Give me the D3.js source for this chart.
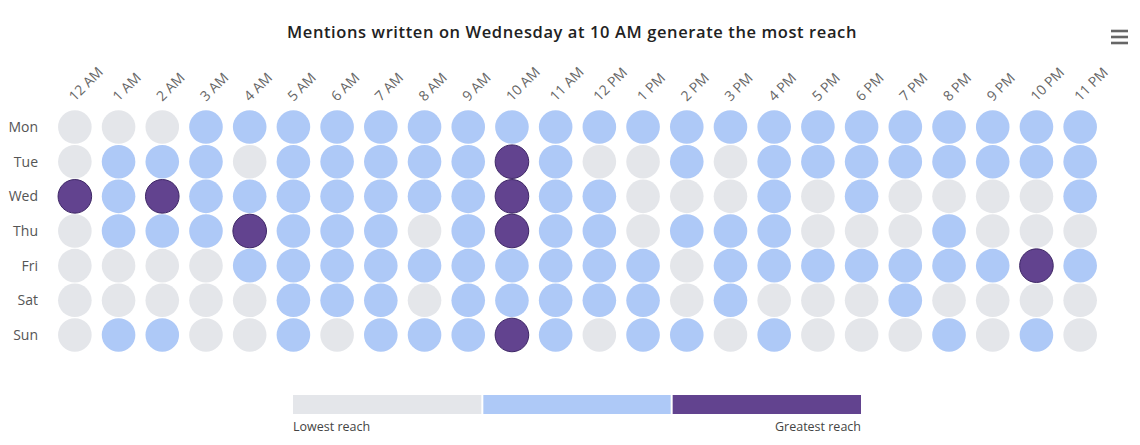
<!DOCTYPE html>
<html>
<head>
<meta charset="utf-8">
<script src="https://cdn.jsdelivr.net/npm/d3@7"></script>
<style>
  html, body { margin: 0; padding: 0; background: #fff; }
  svg { display: block; }
  text { font-family: "Open Sans", "DejaVu Sans", sans-serif; }
</style>
</head>
<body>
<svg id="chart" width="1140" height="445"></svg>
<script>
const title = "Mentions written on Wednesday at 10 AM generate the most reach";
const hours = ["12 AM","1 AM","2 AM","3 AM","4 AM","5 AM","6 AM","7 AM","8 AM","9 AM","10 AM","11 AM",
               "12 PM","1 PM","2 PM","3 PM","4 PM","5 PM","6 PM","7 PM","8 PM","9 PM","10 PM","11 PM"];
const days = ["Mon","Tue","Wed","Thu","Fri","Sat","Sun"];
// reach level: 0 = lowest, 1 = medium, 2 = greatest
const mon = [0,0,0,1,1,1,1,1,1,1,1,1,1,1,1,1,1,1,1,1,1,1,1,1];
const tue = [0,1,1,1,0,1,1,1,1,1,2,1,0,0,1,0,1,1,1,1,1,1,1,1];
const wed = [2,1,2,1,1,1,1,1,1,1,2,1,1,0,0,0,1,0,1,0,0,0,0,1];
const thu = [0,1,1,1,2,1,1,1,0,1,2,1,1,0,1,1,1,0,0,0,1,0,0,0];
const fri = [0,0,0,0,1,1,1,1,1,1,1,1,1,1,0,1,1,1,1,1,1,1,2,1];
const sat = [0,0,0,0,0,1,1,1,0,1,1,1,1,1,0,1,0,0,0,1,0,0,0,0];
const sun = [0,1,1,0,0,1,0,1,1,1,2,1,0,1,1,0,1,0,0,0,1,0,1,0];
const levels = [0,1,2];
const legendLabels = ["Lowest reach","Greatest reach"];

const rows = [mon,tue,wed,thu,fri,sat,sun];
const cells = [];
rows.forEach((r,i) => r.forEach((v,j) => cells.push({day: days[i], hour: hours[j], v})));

const svg = d3.select("#chart");
const x = d3.scaleBand().domain(hours).range([53, 1102]);
const y = d3.scaleBand().domain(days).range([109.7, 352.3]);
const color = d3.scaleOrdinal().domain(levels).range(["#e4e6ea","#aec9f7","#62438f"]);
const stroke = d3.scaleOrdinal().domain(levels).range(["none","none","#3e2766"]);

// title
svg.append("text").attr("x", 572).attr("y", 38).attr("text-anchor","middle")
  .attr("font-size", 16.5).attr("font-weight", 600).attr("letter-spacing", 0.6)
  .attr("fill", "#222").text(title);

// menu icon
[31,37,43].forEach(yy => svg.append("line").attr("x1",1111).attr("x2",1128)
  .attr("y1",yy).attr("y2",yy).attr("stroke","#666").attr("stroke-width",2.6));

// x axis labels (top, rotated)
svg.append("g").selectAll("text").data(hours).join("text")
  .attr("transform", d => `translate(${x(d)+x.bandwidth()/2},${102}) rotate(-45)`)
  .attr("font-size", 14).attr("fill", "#666").text(d => d);

// y labels
svg.append("g").selectAll("text").data(days).join("text")
  .attr("x", 38).attr("y", d => y(d)+y.bandwidth()/2).attr("dy","0.35em")
  .attr("text-anchor","end").attr("font-size", 14).attr("fill", "#555").text(d => d);

// circles
svg.append("g").selectAll("circle").data(cells).join("circle")
  .attr("cx", d => x(d.hour)+x.bandwidth()/2)
  .attr("cy", d => y(d.day)+y.bandwidth()/2)
  .attr("r", 16.8)
  .attr("fill", d => color(d.v))
  .attr("stroke", d => stroke(d.v)).attr("stroke-width", 1);

// legend
const lx = d3.scaleBand().domain(levels).range([293, 861]);
const lg = svg.append("g");
lg.selectAll("rect").data(levels).join("rect")
  .attr("x", d => lx(d)+ (d>0?1:0)).attr("y", 395)
  .attr("width", d => lx.bandwidth() - (d>0?1:0) - (d<2?1:0)).attr("height", 19)
  .attr("fill", d => color(d));
lg.append("text").attr("x", 293).attr("y", 431).attr("font-size", 12.5).attr("fill","#444").text(legendLabels[0]);
lg.append("text").attr("x", 861).attr("y", 431).attr("text-anchor","end").attr("font-size", 12.5).attr("fill","#444").text(legendLabels[1]);
</script>
</body>
</html>
